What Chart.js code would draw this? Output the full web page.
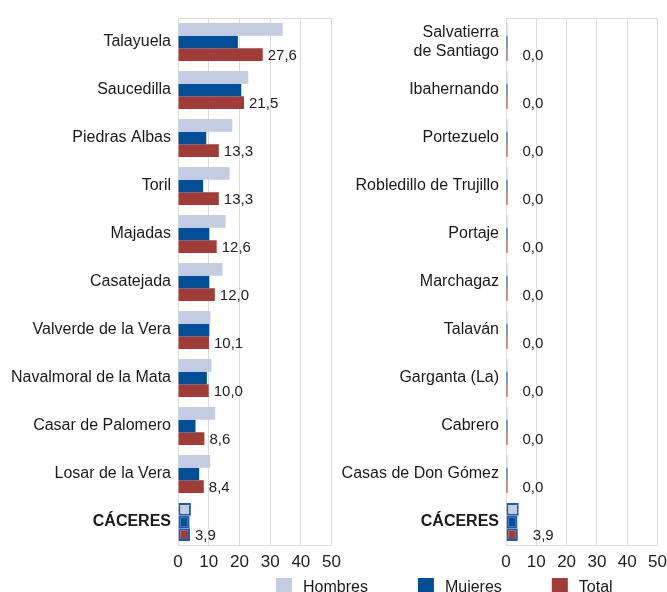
<!DOCTYPE html>
<html>
<head>
<meta charset="utf-8">
<script src="https://cdn.jsdelivr.net/npm/chart.js@4.4.0/dist/chart.umd.min.js"></script>
<style>
  body { margin: 0; background: #fff; width: 667px; height: 592px; overflow: hidden; position: relative; }
  canvas { position: absolute; }
</style>
</head>
<body>
<canvas id="izq" width="347" height="574" style="left:0;top:0"></canvas>
<canvas id="der" width="343" height="574" style="left:330px;top:0"></canvas>
<canvas id="ley" width="667" height="30" style="left:0;top:568px"></canvas>
<script>
// municipios con mayor tasa
var categoriasIzq = ['Talayuela', 'Saucedilla', 'Piedras Albas', 'Toril', 'Majadas', 'Casatejada',
  'Valverde de la Vera', 'Navalmoral de la Mata', 'Casar de Palomero', 'Losar de la Vera', 'CÁCERES'];
var hombresIzq = [34.1, 22.9, 17.7, 16.8, 15.5, 14.5, 10.6, 10.9, 12.1, 10.5, 4.2];
var mujeresIzq = [19.5, 20.6, 9.2, 8.2, 10.2, 10.2, 10.2, 9.4, 5.7, 6.9, 3.8];
var totalIzq = [27.6, 21.5, 13.3, 13.3, 12.6, 12.0, 10.1, 10.0, 8.6, 8.4, 3.9];

// municipios con menor tasa
var categoriasDer = [['Salvatierra', 'de Santiago'], 'Ibahernando', 'Portezuelo', 'Robledillo de Trujillo',
  'Portaje', 'Marchagaz', 'Talaván', 'Garganta (La)', 'Cabrero', 'Casas de Don Gómez', 'CÁCERES'];
var hombresDer = [0, 0, 0, 0, 0, 0, 0, 0, 0, 0, 4.2];
var mujeresDer = [0, 0, 0, 0, 0, 0, 0, 0, 0, 0, 3.8];
var totalDer = [0, 0, 0, 0, 0, 0, 0, 0, 0, 0, 3.9];

var ticksX = [0, 10, 20, 30, 40, 50];
var series = ['Hombres', 'Mujeres', 'Total'];
var colores = ['#c3cce0', '#004d98', '#a13d36'];
var FUENTE = "'Liberation Sans', Arial, sans-serif";

var etiquetas = {
  id: 'etiquetas',
  afterDatasetsDraw: function(chart, args, opts) {
    var ctx = chart.ctx;
    var meta = chart.getDatasetMeta(2);
    ctx.save();
    ctx.font = '15px ' + FUENTE;
    ctx.fillStyle = '#222';
    ctx.textBaseline = 'middle';
    meta.data.forEach(function(el, i) {
      var v = chart.data.datasets[2].data[i];
      ctx.fillText(v.toFixed(1).replace('.', ','), el.x + opts.offset, el.y + 1);
    });
    // linea superior e inferior del area
    var a = chart.chartArea;
    ctx.strokeStyle = '#dcdcdc';
    ctx.lineWidth = 1;
    ctx.beginPath();
    ctx.moveTo(a.left, a.top + 0.5); ctx.lineTo(a.right, a.top + 0.5);
    ctx.moveTo(a.left, a.bottom - 0.5); ctx.lineTo(a.right, a.bottom - 0.5);
    ctx.stroke();
    ctx.restore();
  }
};

function crearGrafico(id, categorias, hombres, mujeres, total, anchoEje, derecha, offset) {
  var datos = [hombres, mujeres, total];
  var ultimo = categorias.length - 1;
  return new Chart(document.getElementById(id), {
    type: 'bar',
    data: {
      labels: categorias,
      datasets: series.map(function(s, k) {
        return {
          label: s,
          data: datos[k],
          backgroundColor: colores[k],
          borderColor: function(c) { return c.dataIndex === ultimo ? '#1d5cab' : colores[k]; },
          borderWidth: function(c) { return c.dataIndex === ultimo ? 2 : 0; },
          borderSkipped: false,
          minBarLength: 1.5,
          barPercentage: 1,
          categoryPercentage: 0.79
        };
      })
    },
    options: {
      indexAxis: 'y',
      responsive: false,
      animation: false,
      devicePixelRatio: 1,
      layout: { padding: { top: 18, right: derecha, left: 0, bottom: 0 } },
      plugins: {
        legend: { display: false },
        tooltip: { enabled: false },
        etiquetas: { offset: offset }
      },
      scales: {
        x: {
          min: 0, max: 50,
          afterBuildTicks: function(s) { s.ticks = ticksX.map(function(v) { return { value: v }; }); },
          grid: { color: '#dcdcdc', drawTicks: false },
          border: { display: false },
          ticks: { color: '#222', font: { family: FUENTE, size: 17 }, padding: 6, maxRotation: 0 },
          afterFit: function(s) { s.height = 28; }
        },
        y: {
          grid: { display: false, drawTicks: false },
          border: { display: false },
          ticks: {
            color: '#1a1a1a',
            padding: 7,
            autoSkip: false,
            font: function(c) {
              return { family: FUENTE, size: 16, weight: c.index === ultimo ? 'bold' : 'normal' };
            }
          },
          afterFit: function(s) { s.width = anchoEje; }
        }
      }
    },
    plugins: [etiquetas]
  });
}

crearGrafico('izq', categoriasIzq, hombresIzq, mujeresIzq, totalIzq, 178, 0, 5);
crearGrafico('der', categoriasDer, hombresDer, mujeresDer, totalDer, 176, 0, 15);

// leyenda comun, dibujada a mano sobre un grafico vacio
var leyenda = {
  id: 'leyenda',
  afterDraw: function(chart) {
    var ctx = chart.ctx;
    ctx.save();
    ctx.font = '16px ' + FUENTE;
    ctx.textBaseline = 'middle';
    var x = 276;
    chart.data.datasets.forEach(function(d) {
      ctx.fillStyle = d.backgroundColor;
      ctx.fillRect(x, 10, 16, 16);
      ctx.fillStyle = '#1a1a1a';
      ctx.fillText(d.label, x + 27, 20);
      x += 27 + ctx.measureText(d.label).width + 50;
    });
    ctx.restore();
  }
};

new Chart(document.getElementById('ley'), {
  type: 'bar',
  data: {
    labels: [],
    datasets: series.map(function(s, k) { return { label: s, data: [], backgroundColor: colores[k] }; })
  },
  options: {
    responsive: false,
    animation: false,
    devicePixelRatio: 1,
    scales: { x: { display: false }, y: { display: false } },
    plugins: { tooltip: { enabled: false }, legend: { display: false } }
  },
  plugins: [leyenda]
});
</script>
</body>
</html>
